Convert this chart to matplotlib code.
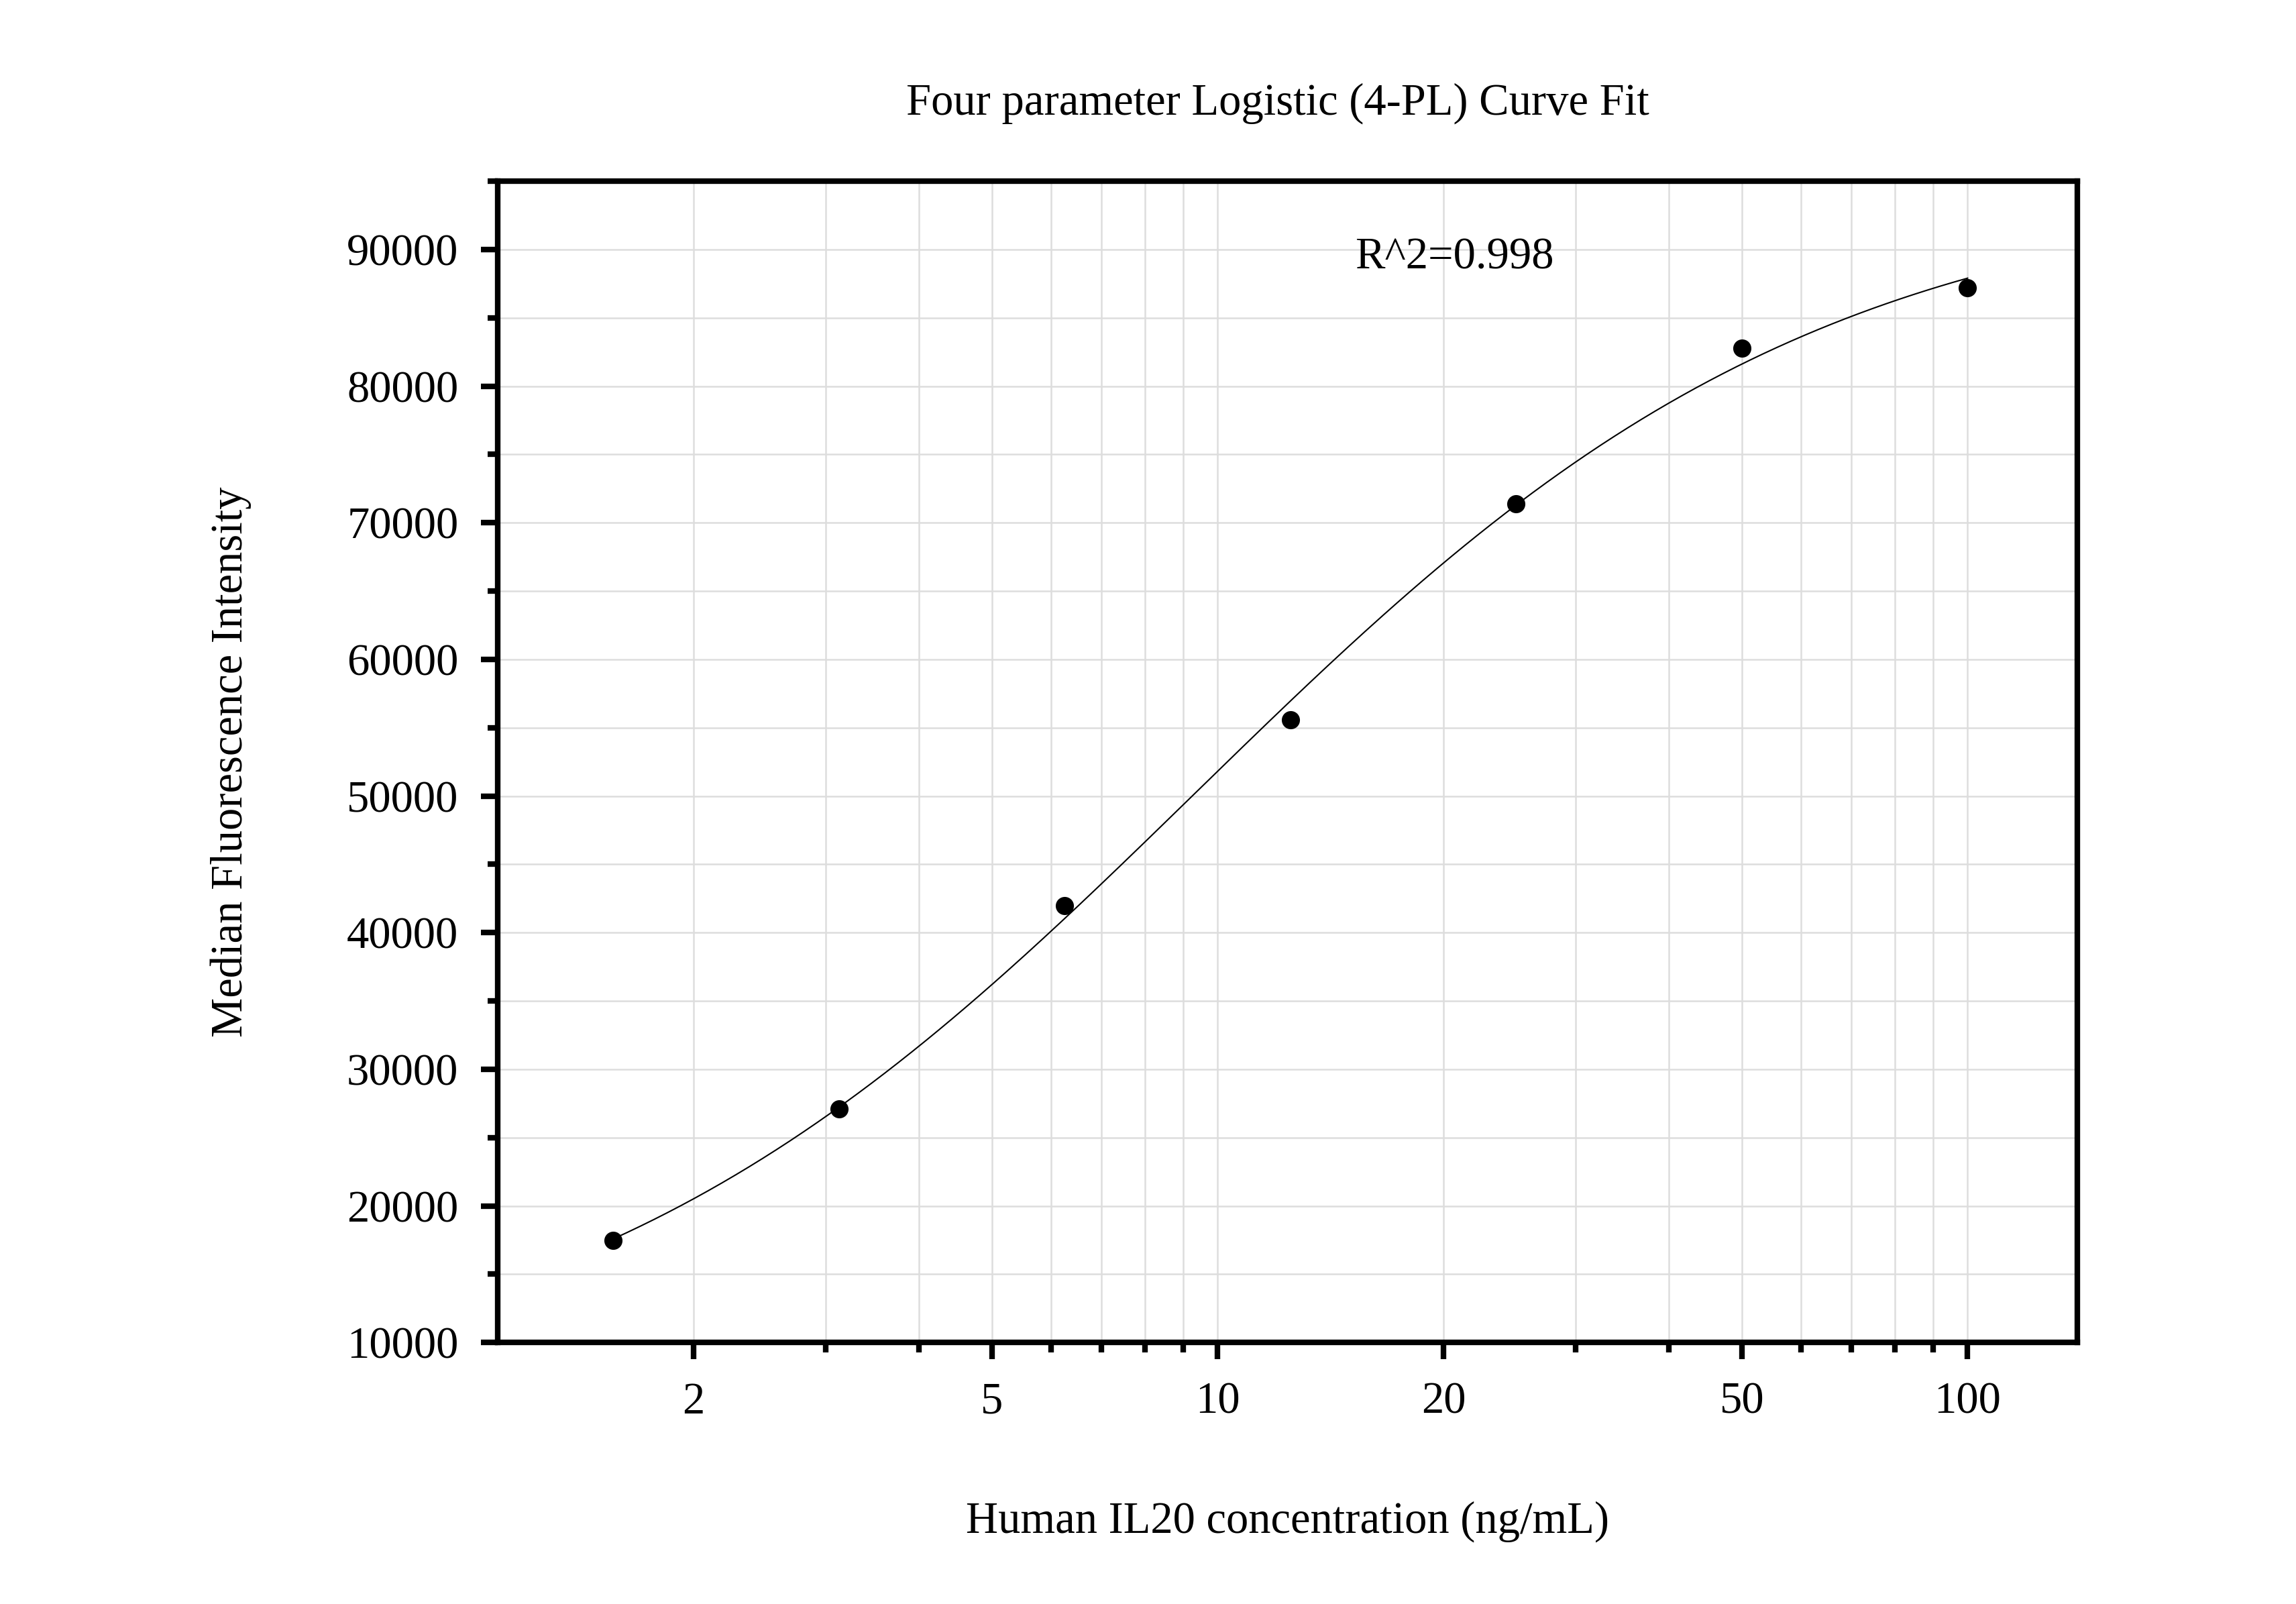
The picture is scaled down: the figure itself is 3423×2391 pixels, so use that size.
import numpy as np
import matplotlib
matplotlib.use("Agg")
import matplotlib.pyplot as plt
from matplotlib.ticker import LogLocator, FixedLocator, MultipleLocator, NullFormatter

# standard points
conc = np.array([1.5625, 3.125, 6.25, 12.5, 25, 50, 100])
mfi = np.array([17500, 27100, 42000, 55600, 71400, 82800, 87200])

x_ticks = [2, 5, 10, 20, 50, 100]
x_tick_labels = ["2", "5", "10", "20", "50", "100"]
r2_text = "R^2=0.998"


# 4-PL fit: y = D + (A - D) / (1 + (x/C)^B); A, D solved linearly on a B/C grid
def fit_4pl(x, y):
    best = None
    for B in np.linspace(0.5, 3.0, 251):
        for C in np.logspace(0, 2.5, 251):
            u = (x / C) ** B
            M = np.column_stack([1 / (1 + u), u / (1 + u)])
            coef, *_ = np.linalg.lstsq(M, y, rcond=None)
            err = np.sum((M @ coef - y) ** 2)
            if best is None or err < best[0]:
                best = (err, coef[0], B, C, coef[1])
    return best[1:]


A, B, C, D = fit_4pl(conc, mfi)
xs = np.logspace(np.log10(conc.min()), np.log10(conc.max()), 300)
ys = D + (A - D) / (1 + (xs / C) ** B)

plt.rcParams["font.family"] = ["Liberation Serif", "DejaVu Serif"]

fig = plt.figure(figsize=(3423 / 300, 2391 / 300), dpi=300)
ax = fig.add_axes([0.2167, 0.163, 0.688, 0.724])

ax.plot(xs, ys, color="black", lw=0.5, zorder=3)
ax.plot(conc, mfi, "o", color="black", ms=5.5, zorder=4)

ax.set_xscale("log")
ax.set_xlim(1.096, 140)
ax.set_ylim(10000, 95000)

ax.xaxis.set_major_locator(FixedLocator(x_ticks))
ax.set_xticklabels(x_tick_labels)
ax.xaxis.set_minor_locator(LogLocator(base=10, subs=np.arange(1, 10)))
ax.xaxis.set_minor_formatter(NullFormatter())
ax.yaxis.set_major_locator(MultipleLocator(10000))
ax.yaxis.set_minor_locator(MultipleLocator(5000))

ax.grid(True, which="both", color="#dddddd", lw=0.6, zorder=0)
ax.set_axisbelow(True)

for s in ax.spines.values():
    s.set_linewidth(2.0)

ax.tick_params(which="major", direction="out", length=6, width=2.0, labelsize=16, pad=8,
               top=False, right=False)
ax.tick_params(which="minor", direction="out", length=3.5, width=2.0,
               top=False, right=False)

ax.set_xlabel("Human IL20 concentration (ng/mL)", fontsize=16, labelpad=28)
ax.set_ylabel("Median Fluorescence Intensity", fontsize=16, labelpad=34)
ax.set_title("Four parameter Logistic (4-PL) Curve Fit", fontsize=16, pad=24, x=0.494)

ax.text(0.543, 0.934, r2_text, transform=ax.transAxes, fontsize=16, va="center", ha="left")

fig.savefig("out.png", dpi=300)
